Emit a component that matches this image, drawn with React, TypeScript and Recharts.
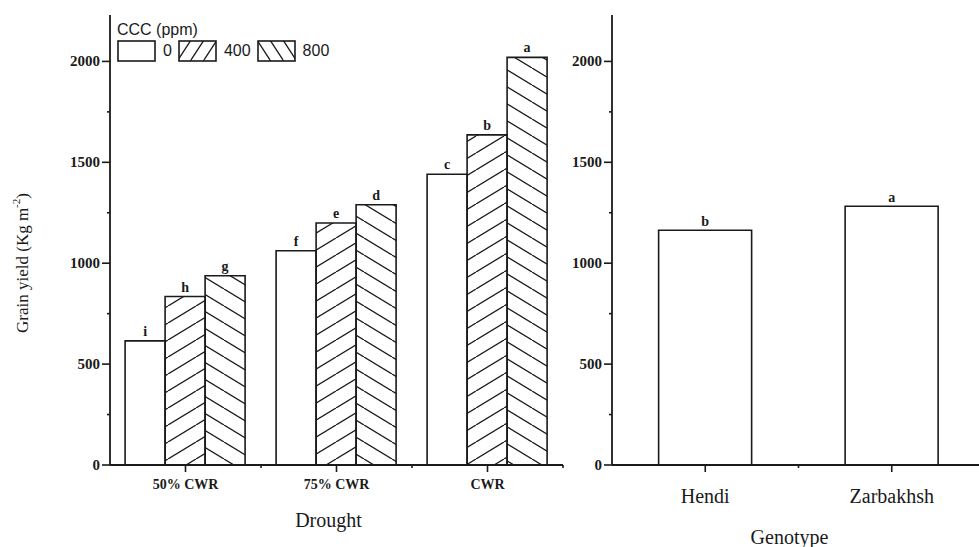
import { BarChart, Bar, XAxis, YAxis, Legend, LabelList } from "recharts";

const DROUGHT = ["50% CWR", "75% CWR", "CWR"];
const YIELD_0 = [615, 1062, 1441];
const YIELD_400 = [835, 1199, 1636];
const YIELD_800 = [938, 1290, 2020];
const LETTERS_0 = ["i", "f", "c"];
const LETTERS_400 = ["h", "e", "b"];
const LETTERS_800 = ["g", "d", "a"];

const GENOTYPES = ["Hendi", "Zarbakhsh"];
const GENO_YIELD = [1163, 1282];
const GENO_LETTERS = ["b", "a"];

const Y_TICKS = [0, 250, 500, 750, 1000, 1250, 1500, 1750, 2000];

const droughtData = DROUGHT.map((d, i) => ({
  drought: d,
  c0: YIELD_0[i],
  c400: YIELD_400[i],
  c800: YIELD_800[i],
  l0: LETTERS_0[i],
  l400: LETTERS_400[i],
  l800: LETTERS_800[i],
}));

const genoData = GENOTYPES.map((g, i) => ({
  genotype: g,
  yield: GENO_YIELD[i],
  letter: GENO_LETTERS[i],
}));

const SERIF = '"Liberation Serif", "Times New Roman", serif';
const SANS = '"Liberation Sans", Arial, sans-serif';
const INK = "#1a1a1a";

const yTick = (p: any) => {
  const v = p.payload.value;
  const major = v % 500 === 0;
  return (
    <g>
      <line x1={p.x - (major ? 8 : 3)} x2={p.x} y1={p.y} y2={p.y} stroke={INK} strokeWidth={1.6} />
      {major && (
        <text x={p.x - 10} y={p.y} dy={5} textAnchor="end" fontFamily={SERIF} fontSize={15} fontWeight="bold" fill={INK}>
          {v}
        </text>
      )}
    </g>
  );
};

const xTick = (fontSize: number, bold: boolean, dy: number) => (p: any) => {
  const off = p.payload.offset || p.width / p.visibleTicksCount / 2;
  return (
    <g>
      <line x1={p.x} x2={p.x} y1={p.y} y2={p.y + 7} stroke={INK} strokeWidth={1.6} />
      <line x1={p.x + off} x2={p.x + off} y1={p.y} y2={p.y + 3} stroke={INK} strokeWidth={1.6} />
      <text x={p.x} y={p.y + dy} textAnchor="middle" fontFamily={SERIF} fontSize={fontSize} fontWeight={bold ? "bold" : "normal"} fill={INK}>
        {p.payload.value}
      </text>
    </g>
  );
};

const LEGEND_FILLS = ["#fff", "url(#lgFwd)", "url(#lgBack)"];

const renderLegend = (props: any) => {
  const items = props.payload || [];
  return (
    <div style={{ fontFamily: SANS, fontSize: 16, color: INK }}>
      <div style={{ lineHeight: "18px" }}>CCC (ppm)</div>
      <div style={{ display: "flex", alignItems: "center", marginTop: 1 }}>
        {items.map((e: any, i: number) => (
          <span key={i} style={{ display: "flex", alignItems: "center", marginRight: 6 }}>
            <svg width={39} height={22}>
              <rect x={1} y={1} width={37} height={20} fill={LEGEND_FILLS[i]} stroke={INK} strokeWidth={1.6} />
            </svg>
            <span style={{ marginLeft: 7 }}>{e.value}</span>
          </span>
        ))}
      </div>
    </div>
  );
};

const barStroke = { stroke: INK, strokeWidth: 1.6 };
const letterStyle = { fontFamily: SERIF, fontSize: 14, fontWeight: "bold" as const, fill: INK };

export default function App() {
  return (
    <div style={{ position: "absolute", left: 0, top: 0, width: 979, height: 547, overflow: "hidden", background: "#fff" }}>
      <div style={{ position: "absolute", left: 0, top: 0 }}>
        <BarChart
          width={570}
          height={547}
          data={droughtData}
          margin={{ top: 15, right: 7, left: 50, bottom: 32 }}
          barCategoryGap="10%"
          barGap={0}
        >
          <defs>
            <pattern id="hFwd" patternUnits="userSpaceOnUse" width={28} height={17}>
              <path d="M-28,17 L0,0 M0,17 L28,0 M28,17 L56,0" stroke={INK} strokeWidth={1.3} />
            </pattern>
            <pattern id="hBack" patternUnits="userSpaceOnUse" width={28} height={17}>
              <path d="M-28,0 L0,17 M0,0 L28,17 M28,0 L56,17" stroke={INK} strokeWidth={1.3} />
            </pattern>
            <pattern id="lgFwd" patternUnits="userSpaceOnUse" width={13} height={20}>
              <path d="M-13,20 L0,0 M0,20 L13,0 M13,20 L26,0" stroke={INK} strokeWidth={1.3} />
            </pattern>
            <pattern id="lgBack" patternUnits="userSpaceOnUse" width={13} height={20}>
              <path d="M-13,0 L0,20 M0,0 L13,20 M13,0 L26,20" stroke={INK} strokeWidth={1.3} />
            </pattern>
          </defs>
          <XAxis
            dataKey="drought"
            height={50}
            interval={0}
            tickLine={false}
            tickSize={0}
            tickMargin={0}
            axisLine={{ stroke: INK, strokeWidth: 1.8 }}
            tick={xTick(14, true, 24)}
            label={(p: any) => {
              const vb = p.viewBox;
              return (
                <text x={vb.x + vb.width / 2 - 8} y={vb.y + 62} textAnchor="middle" fontFamily={SERIF} fontSize={20} fill={INK}>
                  Drought
                </text>
              );
            }}
          />
          <YAxis
            width={60}
            domain={[0, 2230]}
            ticks={Y_TICKS}
            interval={0}
            tickLine={false}
            tickSize={0}
            tickMargin={0}
            axisLine={{ stroke: INK, strokeWidth: 1.8 }}
            tick={yTick}
            label={(p: any) => {
              const vb = p.viewBox;
              const cx = vb.x - 28;
              const cy = vb.y + vb.height / 2 + 23;
              return (
                <text
                  x={cx}
                  y={cy}
                  transform={`rotate(-90, ${cx}, ${cy})`}
                  textAnchor="middle"
                  dominantBaseline="central"
                  fontFamily={SERIF}
                  fontSize={17}
                  fill={INK}
                >
                  <tspan>Grain yield (Kg m</tspan>
                  <tspan dy={-6} fontSize={11}>-2</tspan>
                  <tspan dy={6}>)</tspan>
                </text>
              );
            }}
          />
          <Legend
            layout="horizontal"
            verticalAlign="middle"
            align="center"
            content={renderLegend}
            wrapperStyle={{ left: 117, top: 21, width: 260 }}
          />
          <Bar dataKey="c0" name="0" fill="#fff" {...barStroke} isAnimationActive={false}>
            <LabelList dataKey="l0" position="top" offset={5} style={letterStyle} />
          </Bar>
          <Bar dataKey="c400" name="400" fill="url(#hFwd)" {...barStroke} isAnimationActive={false}>
            <LabelList dataKey="l400" position="top" offset={5} style={letterStyle} />
          </Bar>
          <Bar dataKey="c800" name="800" fill="url(#hBack)" {...barStroke} isAnimationActive={false}>
            <LabelList dataKey="l800" position="top" offset={5} style={letterStyle} />
          </Bar>
        </BarChart>
      </div>

      <div style={{ position: "absolute", left: 540, top: 0 }}>
        <BarChart
          width={450}
          height={547}
          data={genoData}
          margin={{ top: 15, right: 5, left: 12, bottom: 22 }}
          barCategoryGap="25%"
        >
          <XAxis
            dataKey="genotype"
            height={60}
            interval={0}
            tickLine={false}
            tickSize={0}
            tickMargin={0}
            axisLine={{ stroke: INK, strokeWidth: 1.8 }}
            tick={xTick(20, false, 38)}
            label={(p: any) => {
              const vb = p.viewBox;
              return (
                <text x={vb.x + vb.width / 2 - 9} y={vb.y + 79} textAnchor="middle" fontFamily={SERIF} fontSize={20} fill={INK}>
                  Genotype
                </text>
              );
            }}
          />
          <YAxis
            width={60}
            domain={[0, 2230]}
            ticks={Y_TICKS}
            interval={0}
            tickLine={false}
            tickSize={0}
            tickMargin={0}
            axisLine={{ stroke: INK, strokeWidth: 1.8 }}
            tick={yTick}
          />
          <Bar dataKey="yield" fill="#fff" {...barStroke} isAnimationActive={false}>
            <LabelList dataKey="letter" position="top" offset={4} style={letterStyle} />
          </Bar>
        </BarChart>
      </div>
    </div>
  );
}
